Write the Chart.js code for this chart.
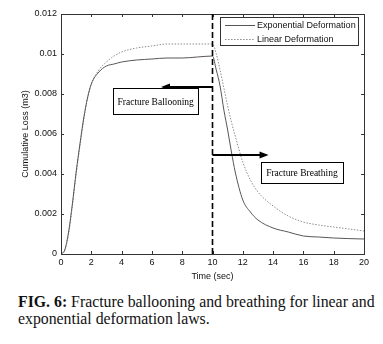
<!DOCTYPE html>
<html>
<head>
<meta charset="utf-8">
<script src="https://cdn.jsdelivr.net/npm/chart.js@4"></script>
<style>
  body { margin: 0; background: #fff; width: 383px; height: 344px; overflow: hidden; }
  #wrap { position: absolute; left: 0; top: 0; width: 383px; height: 285px; }
  #caption { position: absolute; left: 18px; top: 294px; white-space: nowrap;
    font-family: "Liberation Serif", "Times New Roman", serif; font-size: 15.8px; line-height: 16.6px; color: #111; }
</style>
</head>
<body>
<div id="wrap"><canvas id="lossChart"></canvas></div>
<div id="caption"><b>FIG. 6:</b> Fracture ballooning and breathing for linear and<br>exponential deformation laws.</div>
<script>
// Time (sec)
const times = [0, 0.25, 0.5, 0.75, 1, 1.25, 1.5, 1.75, 2, 2.5, 3, 3.5, 4, 5, 6, 7, 8, 9, 10,
  10.25, 10.5, 10.75, 11, 11.25, 11.5, 12, 12.5, 13, 14, 15, 16, 17, 18, 19, 20];
// Cumulative loss (m3)
const expLoss = [0, 0.0002, 0.0011, 0.0025, 0.0041, 0.0055, 0.0068, 0.0078, 0.0085, 0.0091, 0.0094, 0.0095, 0.0096,
  0.0097, 0.00975, 0.0098, 0.0098, 0.00985, 0.0099,
  0.0092, 0.0084, 0.0072, 0.0062, 0.0051, 0.0041, 0.0027, 0.0021, 0.0017, 0.0013, 0.0011, 0.0009, 0.00085, 0.0008, 0.00077, 0.00075];
const linLoss = [0, 0.0002, 0.0010, 0.0024, 0.0040, 0.0054, 0.0067, 0.0078, 0.0085, 0.0092, 0.0096, 0.0099, 0.0101,
  0.0103, 0.0104, 0.0105, 0.0105, 0.0105, 0.0105,
  0.0100, 0.0092, 0.0083, 0.0074, 0.0066, 0.0059, 0.0046, 0.0037, 0.0031, 0.0024, 0.0019, 0.0016, 0.00145, 0.00135, 0.00125, 0.00115];
const seriesNames = ['Exponential Deformation', 'Linear Deformation'];
const xTicks = [0, 2, 4, 6, 8, 10, 12, 14, 16, 18, 20];
const yTickLabels = ['0', '0.002', '0.004', '0.006', '0.008', '0.01', '0.012'];

const sansFont = '"Liberation Sans", Arial, sans-serif';
const serifFont = '"Liberation Serif", "Times New Roman", serif';

// arrow from the t=10 line, with a labelled box
function drawArrow(ctx, x0, x1, y) {
  const dir = x1 > x0 ? 1 : -1;
  ctx.strokeStyle = '#000';
  ctx.fillStyle = '#000';
  ctx.lineWidth = 2;
  ctx.beginPath();
  ctx.moveTo(x0, y);
  ctx.lineTo(x1 - dir * 7, y);
  ctx.stroke();
  ctx.beginPath();
  ctx.moveTo(x1, y);
  ctx.lineTo(x1 - dir * 9, y - 3.5);
  ctx.lineTo(x1 - dir * 9, y + 3.5);
  ctx.closePath();
  ctx.fill();
}

function drawBox(ctx, x0, y0, x1, y1, text) {
  ctx.fillStyle = '#fff';
  ctx.fillRect(x0, y0, x1 - x0, y1 - y0);
  ctx.strokeStyle = '#000';
  ctx.lineWidth = 1;
  ctx.strokeRect(Math.round(x0) + 0.5, Math.round(y0) + 0.5, Math.round(x1 - x0), Math.round(y1 - y0));
  ctx.fillStyle = '#000';
  ctx.font = '9.5px ' + serifFont;
  ctx.textAlign = 'center';
  ctx.textBaseline = 'middle';
  ctx.fillText(text, (x0 + x1) / 2, (y0 + y1) / 2 + 1);
}

const decorPlugin = {
  id: 'decor',
  afterDatasetsDraw(chart) {
    const { ctx, chartArea: a, scales: { x, y } } = chart;
    ctx.save();
    // frame and inward ticks
    ctx.strokeStyle = '#333';
    ctx.lineWidth = 1;
    ctx.strokeRect(Math.round(a.left) + 0.5, Math.round(a.top) + 0.5, Math.round(a.right - a.left), Math.round(a.bottom - a.top));
    ctx.beginPath();
    xTicks.forEach(t => {
      const px = Math.round(x.getPixelForValue(t)) + 0.5;
      ctx.moveTo(px, a.bottom); ctx.lineTo(px, a.bottom - 3);
      ctx.moveTo(px, a.top); ctx.lineTo(px, a.top + 3);
    });
    yTickLabels.forEach((_, i) => {
      const py = Math.round(y.getPixelForValue(i * 0.002)) + 0.5;
      ctx.moveTo(a.left, py); ctx.lineTo(a.left + 3, py);
      ctx.moveTo(a.right, py); ctx.lineTo(a.right - 3, py);
    });
    ctx.stroke();

    // dashed line at t = 10
    const x10 = x.getPixelForValue(10);
    ctx.strokeStyle = '#000';
    ctx.lineWidth = 1.6;
    ctx.setLineDash([6, 3]);
    ctx.beginPath();
    ctx.moveTo(x10, a.top);
    ctx.lineTo(x10, a.bottom);
    ctx.stroke();
    ctx.setLineDash([]);

    drawArrow(ctx, x10, x.getPixelForValue(6.6), y.getPixelForValue(0.00835));
    drawBox(ctx, x.getPixelForValue(3.45), y.getPixelForValue(0.0083), x.getPixelForValue(9.05), y.getPixelForValue(0.00698), 'Fracture Ballooning');
    drawArrow(ctx, x10, x.getPixelForValue(13.7), y.getPixelForValue(0.00495));
    drawBox(ctx, x.getPixelForValue(13.2), y.getPixelForValue(0.0046), x.getPixelForValue(18.6), y.getPixelForValue(0.00355), 'Fracture Breathing');

    // legend
    const lx0 = x.getPixelForValue(10.5), lx1 = a.right - 6;
    const ly0 = a.top + 3, ly1 = a.top + 31;
    ctx.fillStyle = '#fff';
    ctx.fillRect(lx0, ly0, lx1 - lx0, ly1 - ly0);
    ctx.strokeStyle = '#333';
    ctx.lineWidth = 1;
    ctx.strokeRect(Math.round(lx0) + 0.5, Math.round(ly0) + 0.5, Math.round(lx1 - lx0), Math.round(ly1 - ly0));
    chart.data.datasets.forEach((ds, i) => {
      const ly = Math.round(ly0 + 8 + i * 14) + 0.5;
      ctx.strokeStyle = ds.borderColor;
      ctx.lineWidth = 1;
      ctx.setLineDash(ds.borderDash || []);
      ctx.beginPath();
      ctx.moveTo(lx0 + 5, ly);
      ctx.lineTo(lx0 + 35, ly);
      ctx.stroke();
      ctx.setLineDash([]);
      ctx.fillStyle = '#111';
      ctx.font = '9px ' + sansFont;
      ctx.textAlign = 'left';
      ctx.textBaseline = 'middle';
      ctx.fillText(ds.label, lx0 + 37, ly);
    });
    ctx.restore();
  }
};

new Chart(document.getElementById('lossChart'), {
  type: 'line',
  data: {
    datasets: [
      {
        label: seriesNames[0],
        data: times.map((t, i) => ({ x: t, y: expLoss[i] })),
        borderColor: '#5a5555',
        borderWidth: 1,
        pointRadius: 0,
        cubicInterpolationMode: 'monotone'
      },
      {
        label: seriesNames[1],
        data: times.map((t, i) => ({ x: t, y: linLoss[i] })),
        borderColor: '#8c8c8c',
        borderWidth: 1,
        borderDash: [1.5, 1.5],
        pointRadius: 0,
        cubicInterpolationMode: 'monotone'
      }
    ]
  },
  options: {
    responsive: true,
    maintainAspectRatio: false,
    animation: false,
    layout: { padding: { top: 14, right: 19, left: 0, bottom: 0 } },
    plugins: { legend: { display: false }, tooltip: { enabled: false } },
    scales: {
      x: {
        type: 'linear',
        min: 0, max: 20,
        afterBuildTicks: s => { s.ticks = xTicks.map(v => ({ value: v })); },
        afterFit: s => { s.height = 31; },
        grid: { display: false, drawTicks: false },
        border: { display: false },
        ticks: { padding: 3, color: '#111', font: { family: sansFont, size: 9 }, maxRotation: 0 },
        title: { display: true, text: 'Time (sec)', color: '#111', font: { family: sansFont, size: 9 }, padding: { top: 0, bottom: 3 } }
      },
      y: {
        min: 0, max: 0.012,
        afterBuildTicks: s => { s.ticks = yTickLabels.map((_, i) => ({ value: i * 0.002 })); },
        afterFit: s => { s.width = 61; },
        grid: { display: false, drawTicks: false },
        border: { display: false },
        ticks: { padding: 4, color: '#111', font: { family: sansFont, size: 9 }, callback: (v, i) => yTickLabels[i] },
        title: { display: true, text: 'Cumulative Loss (m3)', color: '#111', font: { family: sansFont, size: 9 }, padding: { top: 20, bottom: 0 } }
      }
    }
  },
  plugins: [decorPlugin]
});
</script>
</body>
</html>
